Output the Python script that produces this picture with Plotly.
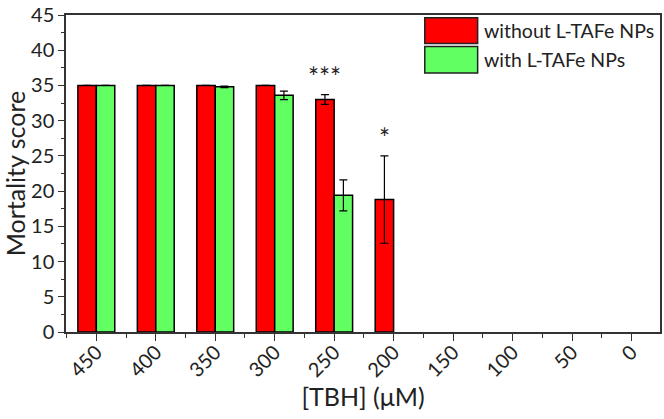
import plotly.graph_objects as go

categories = ["450", "400", "350", "300", "250", "200", "150", "100", "50", "0"]
without_vals = [35, 35, 35, 35, 33.0, 18.8, None, None, None, None]
without_err = [0, 0, 0, 0, 0.7, 6.2, 0, 0, 0, 0]
with_vals = [35, 35, 34.8, 33.6, 19.4, None, None, None, None, None]
with_err = [0, 0, 0.1, 0.6, 2.2, 0, 0, 0, 0, 0]
significance = ["", "", "", "", "***", "*", "", "", "", ""]
series_names = ["without L-TAFe NPs", "with L-TAFe NPs"]

RED = "#ff0000"
GREEN = "#62ff62"
FONT = "Lato"

xi = list(range(len(categories)))

fig = go.Figure()
fig.add_trace(go.Bar(
    x=xi, y=without_vals, name=series_names[0], marker=dict(color=RED, line=dict(color="black", width=1.5)),
    error_y=dict(type="data", array=without_err, color="black", thickness=1.2, width=4, visible=True),
    offsetgroup="a"))
fig.add_trace(go.Bar(
    x=xi, y=with_vals, name=series_names[1], marker=dict(color=GREEN, line=dict(color="black", width=1.5)),
    error_y=dict(type="data", array=with_err, color="black", thickness=1.2, width=4, visible=True),
    offsetgroup="b"))

bargap = 0.38
bar_w = (1 - bargap) / 2
for i, s in enumerate(significance):
    if s:
        fig.add_annotation(x=xi[i] - bar_w / 2, y=without_vals[i] + without_err[i], text=s,
                           showarrow=False, yanchor="bottom", yshift=0,
                           font=dict(family=FONT, size=26, color="#222"))

# legend drawn as large swatches
leg_items = [(series_names[0], RED, 0.991, 0.910), (series_names[1], GREEN, 0.901, 0.817)]
for name, col, y1, y0 in leg_items:
    fig.add_shape(type="rect", xref="paper", yref="paper", x0=0.604, x1=0.693, y0=y0, y1=y1,
                  fillcolor=col, line=dict(color="#222", width=1.5))
    fig.add_annotation(xref="paper", yref="paper", x=0.701, y=(y0 + y1) / 2, text=name,
                       showarrow=False, xanchor="left", yanchor="middle",
                       font=dict(family=FONT, size=19.5, color="#222"))

fig.update_layout(
    width=664, height=419,
    margin=dict(l=66, r=2, t=9, b=87),
    paper_bgcolor="white", plot_bgcolor="white",
    barmode="group", bargap=bargap, bargroupgap=0,
    showlegend=False,
    font=dict(family=FONT, color="#222"),
)
fig.update_xaxes(
    range=[-0.51, 9.48], tickmode="array", tickvals=xi, ticktext=categories,
    tickangle=-45, tickfont=dict(size=20, family=FONT, color="#222"),
    ticks="outside", ticklen=7, tickwidth=1.2, tickcolor="#333",
    minor=dict(dtick=0.5, tick0=-0.5, ticks="outside", ticklen=4, tickwidth=1.2, tickcolor="#333"),
    showline=True, linecolor="#333", linewidth=1.5, mirror=True, showgrid=False, zeroline=False,
    title=dict(text="[TBH] (μM)", font=dict(size=25, family=FONT, color="#222"), standoff=8),
    ticklabelshift=0, ticklabelstandoff=-8, ticklabeloverflow="allow",
)
fig.update_yaxes(
    range=[0, 45], dtick=5, tickfont=dict(size=20, family=FONT, color="#222"),
    ticks="outside", ticklen=6, tickwidth=1.2, tickcolor="#333",
    minor=dict(dtick=2.5, ticks="outside", ticklen=3, tickwidth=1.2, tickcolor="#333"),
    showline=True, linecolor="#333", linewidth=1.5, mirror=True, showgrid=False, zeroline=False,
    title=dict(text="Mortality score", font=dict(size=25, family=FONT, color="#222"), standoff=11),
    ticklabeloverflow="allow",
)
fig.write_html("out.html", config={"displayModeBar": False},
               post_script="document.body.style.margin='0';document.body.style.overflow='hidden';")
